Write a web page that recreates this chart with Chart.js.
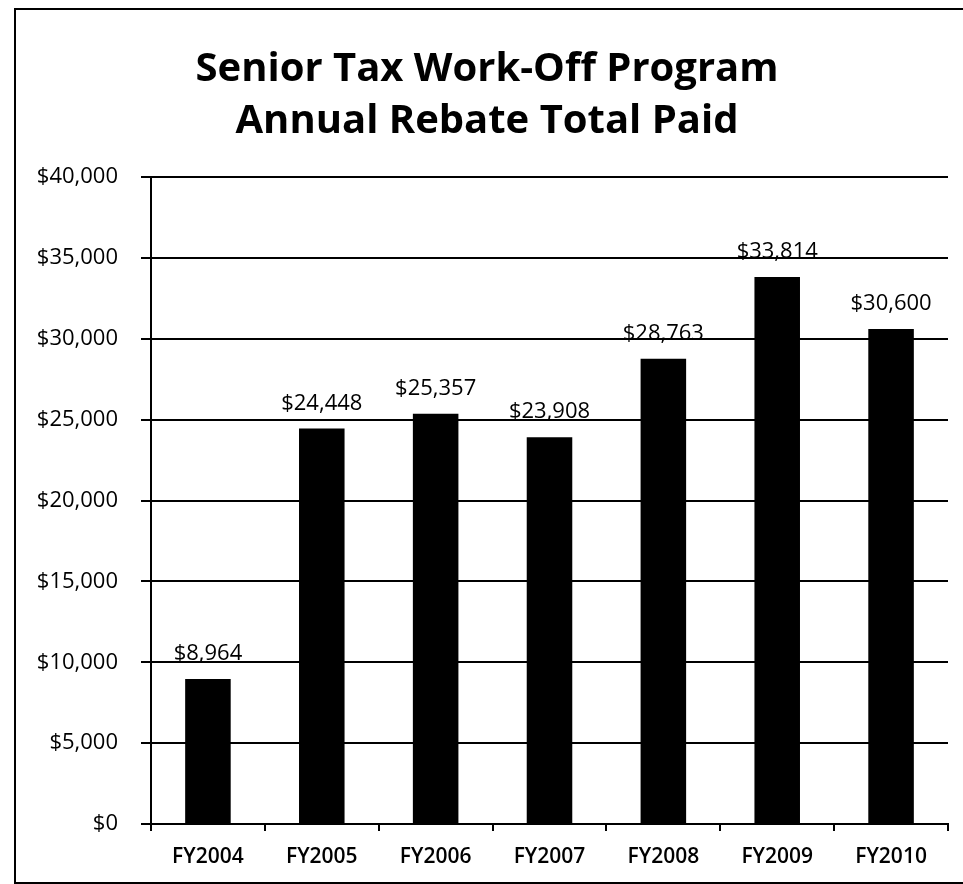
<!DOCTYPE html>
<html>
<head>
<meta charset="utf-8">
<title>Senior Tax Work-Off Program</title>
<script src="https://cdn.jsdelivr.net/npm/chart.js@4/dist/chart.umd.min.js"></script>
<style>
    html, body { margin: 0; padding: 0; background: #fff; overflow: hidden; }
    #wrap { position: relative; width: 963px; height: 884px; }
    #frame {
        position: absolute; left: 14px; top: 8px; width: 980px; height: 872px;
        border: 2px solid #000; pointer-events: none;
    }
</style>
</head>
<body>
<div id="wrap">
    <canvas id="chart" width="963" height="884"></canvas>
    <div id="frame"></div>
</div>
<script>
const categories = ['FY2004', 'FY2005', 'FY2006', 'FY2007', 'FY2008', 'FY2009', 'FY2010'];
const rebateTotals = [8964, 24448, 25357, 23908, 28763, 33814, 30600];
const yTicks = [0, 5000, 10000, 15000, 20000, 25000, 30000, 35000, 40000];
const titleLines = ['Senior Tax Work-Off Program', 'Annual Rebate Total Paid'];

const FONT = "'Open Sans', 'Liberation Sans', sans-serif";
const money = v => '$' + Number(v).toLocaleString('en-US');

// value labels above each bar
const barLabels = {
    id: 'barLabels',
    afterDatasetsDraw(chart) {
        const ctx = chart.ctx;
        const meta = chart.getDatasetMeta(0);
        ctx.save();
        ctx.font = '22px ' + FONT;
        ctx.fillStyle = '#000';
        ctx.textAlign = 'center';
        ctx.textBaseline = 'alphabetic';
        meta.data.forEach((bar, i) => {
            ctx.fillText(money(rebateTotals[i]), bar.x, bar.y - 19);
        });
        ctx.restore();
    }
};

new Chart(document.getElementById('chart').getContext('2d'), {
    type: 'bar',
    data: {
        labels: categories,
        datasets: [{
            data: rebateTotals,
            backgroundColor: '#000',
            borderWidth: 0,
            barPercentage: 0.4,
            categoryPercentage: 1
        }]
    },
    options: {
        responsive: false,
        animation: false,
        // left padding + y axis width put the plot edge at x=151
        layout: { padding: { top: 0, right: 15, bottom: 0, left: 26 } },
        plugins: {
            legend: { display: false },
            tooltip: { enabled: false },
            title: {
                display: true,
                text: titleLines,
                color: '#000',
                font: { family: FONT, size: 40, weight: 'bold', lineHeight: 1.3 },
                padding: { top: 44, bottom: 29 }
            }
        },
        scales: {
            x: {
                offset: true,
                grid: { display: true, drawOnChartArea: false, drawTicks: true, tickLength: 7, color: '#000', lineWidth: 2 },
                border: { display: true, color: '#000', width: 2 },
                ticks: { color: '#000', font: { family: FONT, size: 21, weight: '600' }, padding: 13 },
                afterFit: scale => { scale.height = 60; }
            },
            y: {
                min: 0,
                max: 40000,
                afterBuildTicks: scale => { scale.ticks = yTicks.map(v => ({ value: v })); },
                grid: { color: '#000', lineWidth: 2, tickLength: 10 },
                border: { display: true, color: '#000', width: 2 },
                ticks: { color: '#000', font: { family: FONT, size: 22 }, padding: 23, callback: v => money(v) },
                afterFit: scale => { scale.width = 125; }
            }
        }
    },
    plugins: [barLabels]
});
</script>
</body>
</html>
